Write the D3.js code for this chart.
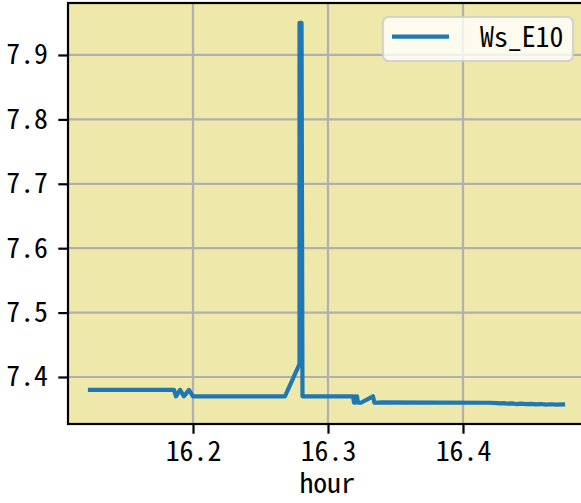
<!DOCTYPE html>
<html>
<head>
<meta charset="utf-8">
<script src="https://cdn.jsdelivr.net/npm/d3@7"></script>
<style>
  html, body { margin: 0; padding: 0; background: #ffffff; overflow: hidden; }
  svg { display: block; }
  text { font-family: "Noto Sans Mono CJK SC", "Noto Sans Mono CJK JP", "DejaVu Sans Mono", monospace; }
</style>
</head>
<body>
<svg id="chart" width="581" height="503"></svg>
<script>
// ---- data ----
const hours = [
  16.1237, 16.1859, 16.1874, 16.1904, 16.1933, 16.1970, 16.2000,
  16.2681, 16.2789, 16.2789, 16.2804, 16.2811,
  16.3185, 16.3193, 16.3200, 16.3207, 16.3215, 16.3222, 16.3244,
  16.3333, 16.3344, 16.3400, 16.4200,
  16.4252, 16.4274, 16.4304, 16.4333, 16.4363, 16.4393, 16.4430,
  16.4467, 16.4504, 16.4541, 16.4578, 16.4615, 16.4652, 16.4689, 16.4741
];
const wsE10 = [
  7.380, 7.380, 7.370, 7.380, 7.370, 7.380, 7.370,
  7.370, 7.420, 7.950, 7.950, 7.370,
  7.370, 7.360, 7.370, 7.360, 7.370, 7.360, 7.360,
  7.370, 7.360, 7.3605, 7.3600,
  7.3595, 7.3590, 7.3595, 7.3585, 7.3590, 7.3580, 7.3585,
  7.3578, 7.3582, 7.3575, 7.3580, 7.3572, 7.3577, 7.3572, 7.3575
];
const xTicks = [16.2, 16.3, 16.4];
const yTicks = [7.4, 7.5, 7.6, 7.7, 7.8, 7.9];
const seriesName = "Ws_E10";
const xLabel = "hour";

// ---- layout ----
const pL = 68, pR = 586.5, pT = 3, pB = 424;
const fs = 27.8;
const svg = d3.select("#chart");

const x = d3.scaleLinear().domain([16.1074, 16.4915]).range([pL, pR]);
const y = d3.scaleLinear().domain([7.3270, 7.9807]).range([pB, pT]);

// background
svg.append("rect").attr("x", pL).attr("y", pT)
  .attr("width", pR - pL).attr("height", pB - pT)
  .attr("fill", "#eee8aa");

// grid
const grid = svg.append("g");
grid.selectAll("line.gx").data(xTicks).enter().append("line")
  .attr("x1", d => x(d)).attr("x2", d => x(d))
  .attr("y1", pT).attr("y2", pB)
  .attr("stroke", "#b0b0b0").attr("stroke-width", 2.2);
grid.selectAll("line.gy").data(yTicks).enter().append("line")
  .attr("y1", d => y(d)).attr("y2", d => y(d))
  .attr("x1", pL).attr("x2", pR)
  .attr("stroke", "#b0b0b0").attr("stroke-width", 2.2);

// data line
const pts = hours.map((h, i) => [h, wsE10[i]]);
const line = d3.line().x(d => x(d[0])).y(d => y(d[1]));
svg.append("path").datum(pts)
  .attr("d", line)
  .attr("fill", "none")
  .attr("stroke", "#1f77b4")
  .attr("stroke-width", 4.2)
  .attr("stroke-linejoin", "round")
  .attr("stroke-linecap", "square");

// axes
const xAxis = d3.axisBottom(x).tickValues(xTicks).tickSize(9.7).tickPadding(9.7)
  .tickFormat(d3.format(".1f"));
const yAxis = d3.axisLeft(y).tickValues(yTicks).tickSize(9.7).tickPadding(9.7)
  .tickFormat(d3.format(".1f"));

const gx = svg.append("g").attr("transform", `translate(0,${pB})`).call(xAxis);
const gy = svg.append("g").attr("transform", `translate(${pL},0)`).call(yAxis);
[gx, gy].forEach(g => {
  g.select(".domain").remove();
  g.selectAll(".tick line").attr("stroke", "#000").attr("stroke-width", 2.2);
  g.selectAll(".tick text").attr("fill", "#000").style("font-size", fs + "px");
});
gx.selectAll(".tick text").attr("dy", null).attr("y", 37);
gy.selectAll(".tick text").attr("dy", null).attr("y", 9).attr("x", -20);

// spines
svg.append("rect").attr("x", pL).attr("y", pT)
  .attr("width", pR - pL).attr("height", pB - pT)
  .attr("fill", "none").attr("stroke", "#000").attr("stroke-width", 2.2);

// x label
svg.append("text").attr("x", (pL + pR) / 2).attr("y", 492.5)
  .attr("text-anchor", "middle").style("font-size", fs + "px").attr("fill", "#000")
  .text(xLabel);

// legend
const lg = svg.append("g");
lg.append("rect").attr("x", 383).attr("y", 17).attr("width", 190).attr("height", 44)
  .attr("rx", 5.6).attr("ry", 5.6)
  .attr("fill", "rgba(255,255,255,0.8)")
  .attr("stroke", "rgba(204,204,204,0.8)").attr("stroke-width", 2.2);
lg.append("line").attr("x1", 392).attr("x2", 449).attr("y1", 36.7).attr("y2", 36.7)
  .attr("stroke", "#1f77b4").attr("stroke-width", 4.2);
lg.append("text").attr("x", 480).attr("y", 46.7).style("font-size", fs + "px")
  .attr("fill", "#000").text(seriesName);
</script>
</body>
</html>
